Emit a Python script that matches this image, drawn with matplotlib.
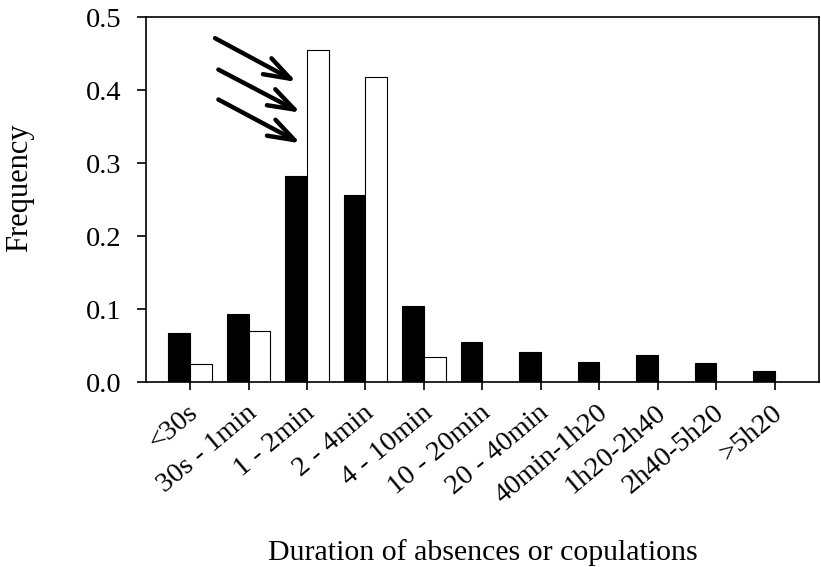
import matplotlib.pyplot as plt
import matplotlib.transforms as mtransforms
import numpy as np

plt.rcParams['font.family'] = ['Liberation Serif', 'DejaVu Serif']

categories = ["<30s", "30s - 1min", "1 - 2min", "2 - 4min", "4 - 10min",
              "10 - 20min", "20 - 40min", "40min-1h20", "1h20-2h40",
              "2h40-5h20", ">5h20"]
black_vals = [0.067, 0.094, 0.282, 0.256, 0.104, 0.055, 0.041, 0.027, 0.037, 0.026, 0.015]
white_vals = [0.025, 0.070, 0.455, 0.418, 0.034, 0, 0, 0, 0, 0, 0]
yticks = [0, 0.1, 0.2, 0.3, 0.4, 0.5]
ytick_labels = ['0.0', '0.1', '0.2', '0.3', '0.4', '0.5']

# arrows pointing at the 1 - 2min bars: (tail, head) in data coords
arrows = [((0.427, 0.471), (1.82, 0.411)),
          ((0.484, 0.428), (1.89, 0.369)),
          ((0.484, 0.387), (1.89, 0.327))]

x = np.arange(len(categories))
w = 0.37

fig = plt.figure(figsize=(8.21, 5.67), dpi=100)
ax = fig.add_axes([0.178, 0.326, 0.819, 0.644])

ax.bar(x - w/2, black_vals, w, color='black', edgecolor='black', linewidth=0.8)
wv = np.array(white_vals)
m = wv > 0
ax.bar(x[m] + w/2, wv[m], w, color='white', edgecolor='black', linewidth=0.8)

for tail, head in arrows:
    ax.annotate('', xy=head, xytext=tail,
                arrowprops=dict(arrowstyle='->,head_length=1.9,head_width=0.65',
                                lw=3.2, color='black', shrinkA=0, shrinkB=0))

ax.set_xlim(-0.752, 10.75)
ax.set_ylim(0, 0.5)
ax.set_yticks(yticks)
ax.set_yticklabels(ytick_labels, fontsize=20.5)
ax.set_xticks(x)
ax.set_xticklabels(categories, rotation=40, ha='right', va='top',
                   rotation_mode='anchor', fontsize=20.5)
ax.tick_params(axis='y', direction='out', length=6.5, width=1.2, pad=11)
ax.tick_params(axis='x', direction='out', length=6, width=1.2, pad=7)
shift = mtransforms.ScaledTranslation(-3/100, 0, fig.dpi_scale_trans)
for lbl in ax.get_xticklabels():
    lbl.set_transform(lbl.get_transform() + shift)
for s in ax.spines.values():
    s.set_linewidth(1.2)

fig.text(19.5/821, 1 - 187.5/567, 'Frequency', rotation=90, fontsize=22,
         ha='center', va='center')
fig.text(483/821, 1 - 560/567, 'Duration of absences or copulations',
         fontsize=21.5, ha='center', va='baseline')

fig.savefig('out.png', dpi=100)
